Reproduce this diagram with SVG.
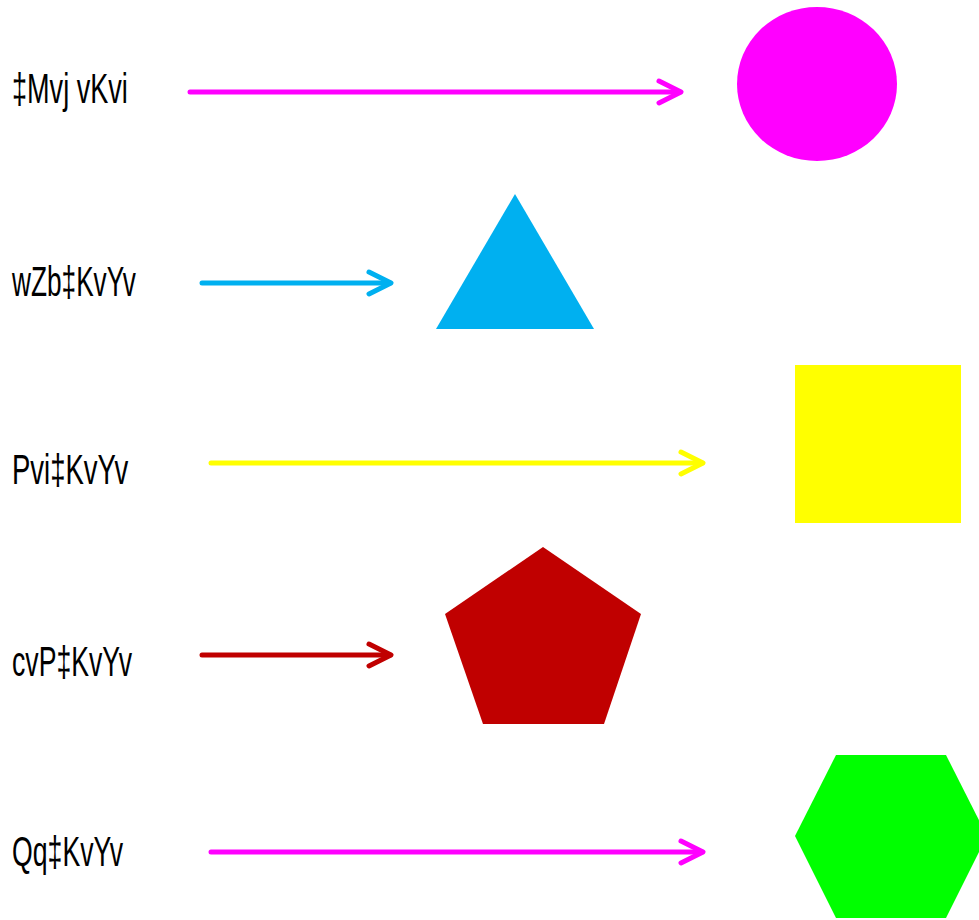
<svg xmlns="http://www.w3.org/2000/svg" width="979" height="920" viewBox="0 0 979 920">
<defs>
<style>
.lbl{font-family:"Liberation Sans","DejaVu Sans",sans-serif;font-size:43px;fill:#000}
.ln{fill:none;stroke-width:5;stroke-linecap:round;stroke-linejoin:round}
</style>
</defs>
<rect width="979" height="920" fill="#fff"/>
<g id="label-circle"><text class="lbl" transform="translate(12,103) scale(0.63,1)">‡Mvj vKvi</text></g>
<g id="label-triangle"><text class="lbl" transform="translate(12,296) scale(0.61,1)">wZb‡KvYv</text></g>
<g id="label-square"><text class="lbl" transform="translate(12,484) scale(0.64,1)">Pvi‡KvYv</text></g>
<g id="label-pentagon"><text class="lbl" transform="translate(12,676) scale(0.62,1)">cvP‡KvYv</text></g>
<g id="label-hexagon"><text class="lbl" transform="translate(12,866) scale(0.62,1)">Qq‡KvYv</text></g>
<g id="connectors">
<g stroke="#FF00FF" class="ln"><line x1="190" y1="92" x2="680" y2="92"/><polyline points="659,81 681,92 659,103"/></g>
<g stroke="#00B0F0" class="ln"><line x1="202" y1="283" x2="390" y2="283"/><polyline points="369,272 391,283 369,294"/></g>
<g stroke="#FFFF00" class="ln"><line x1="211" y1="463" x2="702" y2="463"/><polyline points="681,452 703,463 681,474"/></g>
<g stroke="#C00000" class="ln"><line x1="202" y1="655" x2="390" y2="655"/><polyline points="369,644 391,655 369,666"/></g>
<g stroke="#FF00FF" class="ln"><line x1="211" y1="852" x2="702" y2="852"/><polyline points="681,841 703,852 681,863"/></g>
</g>
<g id="circle"><ellipse cx="817" cy="84" rx="80" ry="77" fill="#FF00FF"/></g>
<g id="triangle"><polygon points="515,194 436,329 594,329" fill="#00B0F0"/></g>
<g id="square"><rect x="795" y="365" width="166" height="158" fill="#FFFF00"/></g>
<g id="pentagon"><polygon points="543,547 641,614 604,724 483,724 445,614" fill="#C00000"/></g>
<g id="hexagon"><polygon points="795,836 836,755 946,755 987,836 946,918 836,918" fill="#00FF00"/></g>
</svg>
